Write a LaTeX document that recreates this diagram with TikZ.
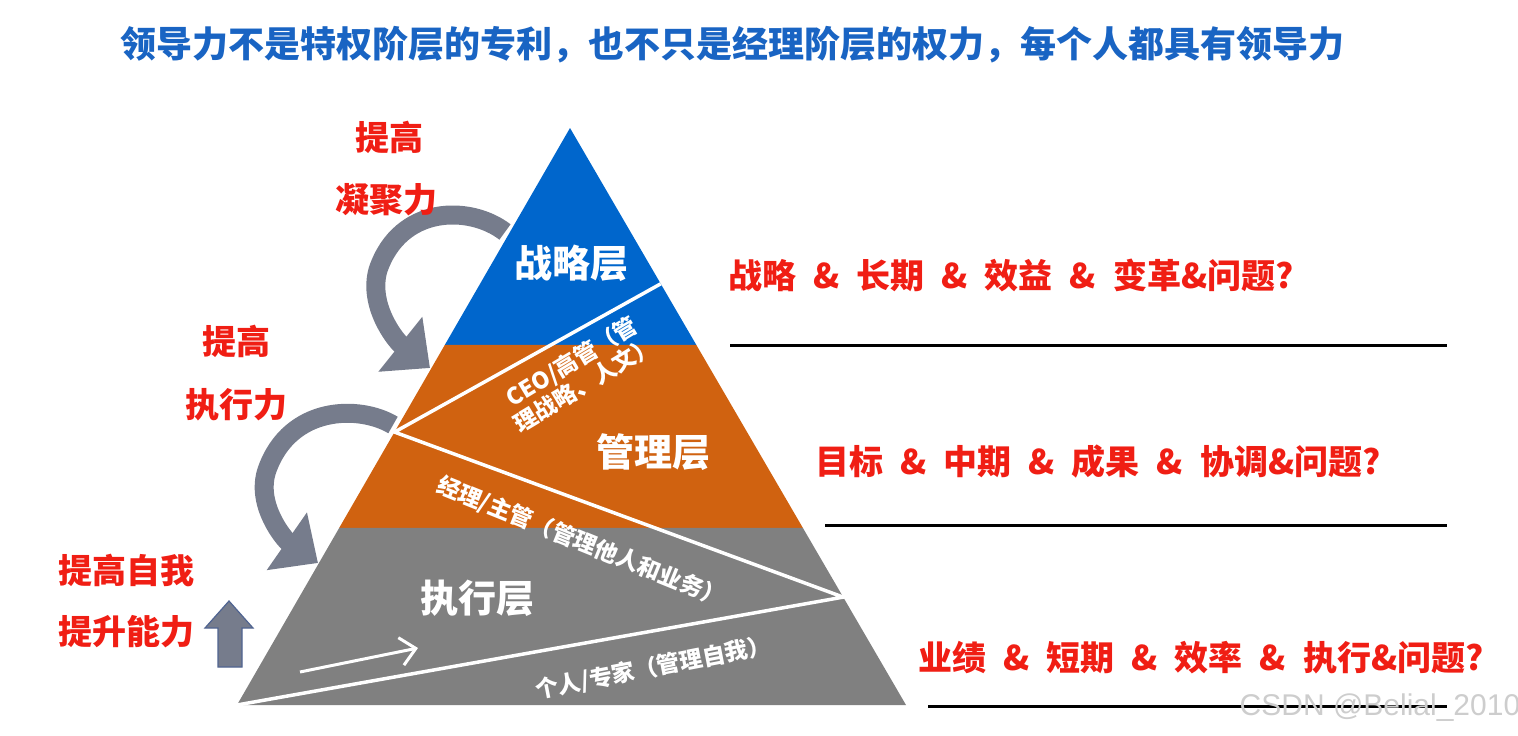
\documentclass[tikz,border=0pt]{standalone}
\usepackage{fontspec}
\setmainfont{Noto Sans CJK SC}
\newfontfamily\wmfont{Liberation Sans}
\usetikzlibrary{arrows.meta,calc}
\definecolor{titleblue}{RGB}{25,100,195}
\definecolor{stratblue}{RGB}{0,102,204}
\definecolor{mgmtorange}{RGB}{208,98,16}
\definecolor{execgray}{RGB}{128,128,128}
\definecolor{hintred}{RGB}{240,30,20}
\definecolor{arrowgray}{RGB}{118,124,140}
\definecolor{arrowedge}{RGB}{80,100,145}
\definecolor{wmgray}{RGB}{205,205,205}
\newcommand{\qamp}{\hspace{0.5em}\&\hspace{0.5em}}
\tikzset{
  layertext/.style={text=white,font=\bfseries\fontsize{38}{38}\selectfont},
  roletext/.style={text=white,font=\bfseries\fontsize{23}{26}\selectfont},
  redtext/.style={text=hintred,font=\bfseries\fontsize{34}{34}\selectfont},
  qtext/.style={text=hintred,font=\bfseries\fontsize{34}{34}\selectfont,anchor=west,inner sep=0pt},
  bendarrow/.style={draw=arrowgray,line width=19pt,-{Triangle[length=38pt,width=68pt]}},
  rule/.style={black,line width=3pt},
}
\begin{document}
\begin{tikzpicture}[x=1pt,y=-1pt]
\useasboundingbox (0,0) rectangle (1518,736);
\node[text=titleblue,font=\bfseries\fontsize{36}{36}\selectfont] (title) at (732,45) {领导力不是特权阶层的专利，也不只是经理阶层的权力，每个人都具有领导力};
% pyramid
\coordinate (apex) at (570,128);
\coordinate (bl) at (237,705);
\coordinate (br) at (906,705);
\coordinate (l1) at ($(apex)!0.376!(bl)$);
\coordinate (r1) at ($(apex)!0.376!(br)$);
\coordinate (l2) at ($(apex)!0.693!(bl)$);
\coordinate (r2) at ($(apex)!0.693!(br)$);
\fill[stratblue] (apex) -- (r1) -- (l1) -- cycle;
\fill[mgmtorange] (l1) -- (r1) -- (r2) -- (l2) -- cycle;
\fill[execgray] (l2) -- (r2) -- (br) -- (bl) -- cycle;
% white split lines
\coordinate (ceo) at ($(apex)!0.527!(bl)$);
\coordinate (ceoend) at ($(apex)!0.270!(br)$);
\coordinate (mgr) at ($(apex)!0.813!(br)$);
\draw[white,line width=3.5pt] (ceoend) -- (ceo) -- (mgr) -- (bl);
\coordinate (runfrom) at (300,672);
\coordinate (runto) at (418,648);
\draw[white,line width=3pt,-{Straight Barb[length=15pt,width=28pt]}] (runfrom) -- (runto);
% layer names
\node[layertext] (strat) at (571,263) {战略层};
\node[layertext] (mgmt) at (653,452) {管理层};
\node[layertext] (exec) at (477,598) {执行层};
\node[roletext,rotate=31,align=center] (ceotxt) at (578,373) {CEO/高管（管\\理战略、人文）};
\node[roletext,rotate=-22] (mgrtxt) at (581,542) {经理/主管（管理他人和业务）};
\node[roletext,rotate=11] (selftxt) at (653,668) {个人/专家（管理自我）};
% bent arrows
\coordinate (cohfrom) at (505,232);
\coordinate (cohto) at (430,368);
\draw[bendarrow] (cohfrom) .. controls (470,205) and (400,205) .. (378,270) .. controls (368,305) and (395,340) .. (cohto);
\coordinate (exefrom) at (393,425);
\coordinate (exeto) at (318,563);
\draw[bendarrow] (exefrom) .. controls (360,405) and (290,405) .. (267,470) .. controls (255,505) and (285,540) .. (exeto);
\filldraw[fill=arrowgray,draw=arrowedge,line width=1.2pt] (218,667) -- (218,628) -- (205,628) -- (229,601) -- (253,628) -- (242,628) -- (242,667) -- cycle;
% red hints
\node[redtext] (coh1) at (389,137) {提高};
\node[redtext] (coh2) at (386,200) {凝聚力};
\node[redtext] (exe1) at (236,341) {提高};
\node[redtext] (exe2) at (236,405) {执行力};
\node[redtext] (self1) at (126,570) {提高自我};
\node[redtext] (self2) at (126,632) {提升能力};
\node[qtext] (stratq) at (728,275) {战略\qamp 长期\qamp 效益\qamp 变革\&问题?};
\node[qtext] (mgmtq) at (815,462) {目标\qamp 中期\qamp 成果\qamp 协调\&问题?};
\node[qtext] (execq) at (918,658) {业绩\qamp 短期\qamp 效率\qamp 执行\&问题?};
\draw[rule] (730,345) -- (1447,345);
\draw[rule] (825,525) -- (1447,525);
\draw[rule] (928,706) -- (1447,706);
\node[text=wmgray,font=\wmfont\fontsize{30}{30}\selectfont] (wm) at (1380,708) {CSDN @Belial\_2010};
\end{tikzpicture}
\end{document}
